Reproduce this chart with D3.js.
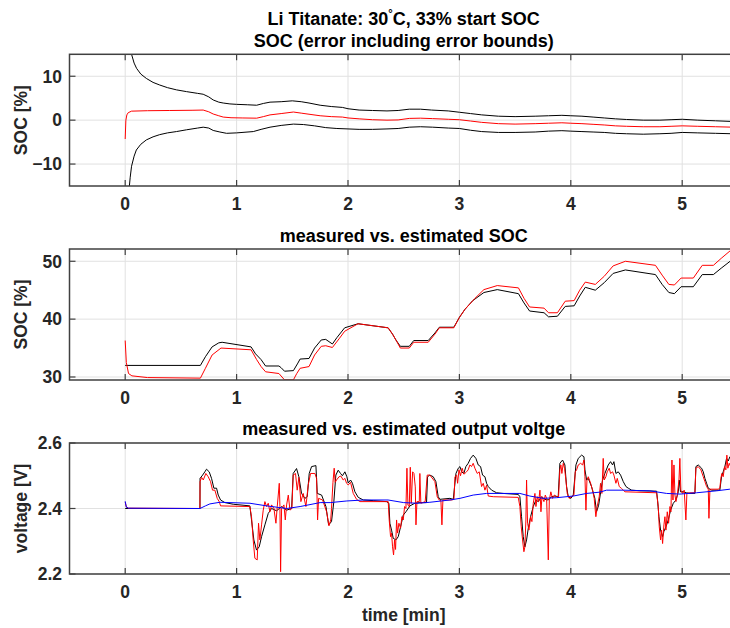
<!DOCTYPE html>
<html>
<head>
<meta charset="utf-8">
<script src="https://cdn.jsdelivr.net/npm/d3@7"></script>
<style>
  body { margin: 0; background: #fff; }
  svg { display: block; font-family: "Liberation Sans", Arial, sans-serif; font-weight: bold; }
</style>
</head>
<body>
<svg id="fig" width="730" height="628"></svg>
<script>
// --- Data (time in minutes) ---

const timeTicks = [0, 1, 2, 3, 4, 5];

// Panel 1: SOC error [%] and its bounds
const errTicks = [-10, 0, 10];
const errEst = [[0,-4.3],[0.006,0],[0.015,1.2],[0.027,1.7],[0.057,2.05],[0.2,2.15],[0.4,2.2],[0.6,2.25],[0.70,2.3],[0.75,1.9],[0.79,1.4],[0.84,1.0],[0.88,0.7],[0.95,0.55],[1.05,0.5],[1.18,0.45],[1.24,0.8],[1.30,1.2],[1.4,1.5],[1.51,1.85],[1.58,1.6],[1.65,1.35],[1.75,1.0],[1.85,0.8],[1.95,0.7],[2.0,0.5],[2.1,0.3],[2.22,0.1],[2.35,0.0],[2.45,0.05],[2.55,0.4],[2.65,0.45],[2.76,0.35],[2.9,0.2],[3.0,0.1],[3.1,-0.2],[3.2,-0.5],[3.35,-0.8],[3.5,-0.9],[3.68,-0.8],[3.8,-0.7],[3.92,-0.6],[4.0,-0.7],[4.1,-0.8],[4.2,-0.95],[4.3,-1.1],[4.4,-1.3],[4.5,-1.4],[4.65,-1.5],[4.8,-1.5],[4.9,-1.4],[5.0,-1.3],[5.14,-1.4],[5.3,-1.5],[5.45,-1.6]];
const errUpper = [[0.02,40],[0.04,19],[0.057,15],[0.08,13],[0.102,11.8],[0.14,10.5],[0.19,9.5],[0.25,8.6],[0.31,8.0],[0.38,7.4],[0.46,6.9],[0.55,6.5],[0.65,6.1],[0.70,5.9],[0.75,5.3],[0.79,4.6],[0.84,4.1],[0.88,3.9],[0.94,3.7],[1.0,3.6],[1.1,3.5],[1.18,3.4],[1.24,3.8],[1.3,4.1],[1.4,4.2],[1.5,4.4],[1.58,4.2],[1.65,3.9],[1.75,3.4],[1.85,3.1],[1.95,2.9],[2.0,2.6],[2.1,2.3],[2.22,2.2],[2.35,2.1],[2.45,2.2],[2.55,2.5],[2.65,2.5],[2.75,2.3],[2.9,2.1],[3.0,1.8],[3.1,1.5],[3.2,1.2],[3.35,0.9],[3.5,0.8],[3.68,0.9],[3.8,1.0],[3.92,1.1],[4.0,1.0],[4.1,0.9],[4.2,0.7],[4.3,0.5],[4.4,0.3],[4.5,0.15],[4.65,0.0],[4.8,0.0],[4.9,0.1],[5.0,0.2],[5.14,0.0],[5.3,-0.15],[5.45,-0.3]];
const errLower = [[0.02,-40],[0.03,-17],[0.045,-13],[0.057,-10.5],[0.08,-8.2],[0.10,-6.8],[0.14,-5.5],[0.19,-4.5],[0.25,-3.8],[0.31,-3.3],[0.38,-2.9],[0.46,-2.6],[0.55,-2.2],[0.65,-1.8],[0.70,-1.6],[0.75,-1.8],[0.79,-2.35],[0.85,-2.7],[0.91,-3.0],[1.0,-2.9],[1.15,-2.6],[1.22,-2.1],[1.30,-1.6],[1.4,-1.2],[1.51,-0.9],[1.6,-1.0],[1.7,-1.3],[1.8,-1.7],[1.9,-1.9],[2.0,-2.0],[2.1,-2.1],[2.22,-2.1],[2.35,-2.0],[2.45,-1.9],[2.55,-1.6],[2.65,-1.5],[2.76,-1.6],[2.9,-1.8],[3.0,-1.9],[3.1,-2.3],[3.2,-2.6],[3.35,-2.8],[3.5,-2.8],[3.68,-2.7],[3.8,-2.5],[3.92,-2.4],[4.0,-2.5],[4.1,-2.6],[4.2,-2.7],[4.3,-2.8],[4.4,-3.0],[4.5,-3.1],[4.65,-3.2],[4.8,-3.1],[4.9,-3.0],[5.0,-2.8],[5.14,-2.9],[5.3,-3.0],[5.45,-3.1]];

// Panel 2: measured vs. estimated SOC [%]
const socTicks = [30, 40, 50];
const socMeas = [[0,32.0],[0.675,32.0],[0.72,33.5],[0.78,35.2],[0.84,35.9],[0.87,36.0],[1.13,35.2],[1.17,34.0],[1.22,33.0],[1.26,31.9],[1.38,31.9],[1.40,31.6],[1.43,31.0],[1.51,31.1],[1.55,32.4],[1.57,33.1],[1.65,33.2],[1.70,35.0],[1.76,36.4],[1.80,36.5],[1.86,35.7],[1.90,36.8],[1.97,38.5],[2.09,39.2],[2.36,38.5],[2.40,37.4],[2.43,36.4],[2.47,35.3],[2.55,35.3],[2.59,36.3],[2.72,36.3],[2.78,37.6],[2.82,38.6],[2.95,38.6],[3.0,40.3],[3.05,41.7],[3.12,43.2],[3.22,44.6],[3.34,45.1],[3.53,44.4],[3.58,42.8],[3.63,41.4],[3.76,41.1],[3.80,40.4],[3.88,40.5],[3.95,42.2],[4.03,42.3],[4.08,44.0],[4.13,45.5],[4.22,45.0],[4.30,46.3],[4.38,47.9],[4.49,48.5],[4.76,47.7],[4.82,46.0],[4.88,44.6],[4.93,44.4],[4.99,45.6],[5.10,45.6],[5.18,47.7],[5.28,47.7],[5.35,48.8],[5.43,50.0],[5.5,50.5]];
const socEst = [[0,36.3],[0.01,32.5],[0.03,30.6],[0.06,30.2],[0.2,29.9],[0.675,29.8],[0.72,31.5],[0.78,33.8],[0.86,35.0],[1.13,34.7],[1.18,33.0],[1.22,31.8],[1.26,30.9],[1.38,30.6],[1.43,29.5],[1.51,29.5],[1.54,30.6],[1.57,31.5],[1.65,31.8],[1.70,33.8],[1.76,35.3],[1.80,35.4],[1.86,35.1],[1.92,36.6],[1.97,37.9],[2.09,39.2],[2.36,38.5],[2.40,37.4],[2.43,36.4],[2.47,35.0],[2.55,35.0],[2.59,36.0],[2.72,36.0],[2.78,37.4],[2.82,38.5],[2.95,38.5],[3.0,40.3],[3.05,41.7],[3.14,43.6],[3.22,45.1],[3.34,45.8],[3.53,45.4],[3.58,43.6],[3.63,42.1],[3.76,41.9],[3.80,41.1],[3.88,41.1],[3.95,43.1],[4.03,43.2],[4.08,45.0],[4.13,46.4],[4.22,46.0],[4.30,47.4],[4.38,49.2],[4.49,50.0],[4.76,49.3],[4.82,47.6],[4.88,46.0],[4.93,45.9],[4.99,47.1],[5.10,47.1],[5.18,49.3],[5.28,49.3],[5.35,50.5],[5.43,51.8],[5.5,52.4]];

// Panel 3: measured vs. estimated output voltage [V], plus the slow (OCV) term
const voltTicks = [2.2, 2.4, 2.6];
const voltMeas = [[0,2.400],[0.671,2.400],[0.672,2.492],[0.695,2.502],[0.715,2.512],[0.730,2.520],[0.754,2.512],[0.775,2.492],[0.796,2.462],[0.820,2.462],[0.835,2.441],[0.856,2.426],[0.895,2.418],[0.970,2.413],[1.119,2.408],[1.134,2.365],[1.155,2.304],[1.179,2.273],[1.203,2.283],[1.224,2.314],[1.254,2.350],[1.284,2.385],[1.314,2.400],[1.359,2.393],[1.404,2.406],[1.449,2.395],[1.494,2.400],[1.508,2.507],[1.538,2.522],[1.559,2.497],[1.583,2.446],[1.613,2.431],[1.634,2.436],[1.652,2.507],[1.673,2.528],[1.712,2.531],[1.724,2.446],[1.763,2.441],[1.802,2.406],[1.826,2.350],[1.852,2.360],[1.873,2.421],[1.891,2.502],[1.912,2.517],[1.933,2.507],[1.950,2.500],[1.972,2.512],[1.990,2.497],[2.002,2.478],[2.023,2.487],[2.040,2.477],[2.062,2.451],[2.092,2.434],[2.137,2.426],[2.226,2.424],[2.346,2.421],[2.367,2.416],[2.376,2.355],[2.391,2.334],[2.406,2.309],[2.430,2.304],[2.451,2.314],[2.472,2.344],[2.496,2.380],[2.520,2.390],[2.556,2.408],[2.600,2.416],[2.645,2.418],[2.705,2.418],[2.714,2.497],[2.735,2.502],[2.765,2.497],[2.789,2.482],[2.810,2.436],[2.825,2.428],[2.915,2.431],[2.945,2.428],[2.969,2.507],[2.990,2.523],[3.005,2.528],[3.020,2.512],[3.040,2.507],[3.058,2.528],[3.079,2.538],[3.100,2.553],[3.124,2.563],[3.148,2.553],[3.169,2.533],[3.190,2.528],[3.208,2.502],[3.229,2.497],[3.244,2.477],[3.259,2.467],[3.289,2.456],[3.334,2.448],[3.393,2.446],[3.528,2.443],[3.543,2.436],[3.558,2.375],[3.573,2.314],[3.588,2.283],[3.603,2.304],[3.618,2.339],[3.639,2.375],[3.663,2.406],[3.687,2.426],[3.708,2.421],[3.738,2.436],[3.768,2.428],[3.798,2.426],[3.827,2.436],[3.857,2.438],[3.887,2.436],[3.902,2.538],[3.926,2.548],[3.947,2.533],[3.962,2.467],[3.977,2.436],[4.001,2.431],[4.022,2.441],[4.046,2.533],[4.067,2.553],[4.097,2.563],[4.118,2.558],[4.127,2.518],[4.142,2.487],[4.157,2.492],[4.186,2.467],[4.216,2.431],[4.231,2.390],[4.250,2.410],[4.268,2.450],[4.285,2.487],[4.306,2.507],[4.336,2.533],[4.357,2.543],[4.375,2.533],[4.387,2.543],[4.405,2.507],[4.426,2.512],[4.447,2.502],[4.471,2.482],[4.495,2.467],[4.516,2.462],[4.546,2.456],[4.620,2.454],[4.770,2.453],[4.779,2.425],[4.791,2.375],[4.806,2.334],[4.824,2.314],[4.836,2.330],[4.854,2.344],[4.875,2.365],[4.896,2.395],[4.920,2.416],[4.944,2.426],[4.965,2.451],[4.974,2.487],[4.985,2.451],[5.009,2.451],[5.039,2.448],[5.069,2.446],[5.114,2.446],[5.123,2.528],[5.144,2.533],[5.174,2.523],[5.189,2.512],[5.204,2.492],[5.219,2.477],[5.234,2.462],[5.264,2.456],[5.338,2.456],[5.353,2.497],[5.368,2.512],[5.383,2.528],[5.398,2.553],[5.413,2.545],[5.428,2.558],[5.5,2.550]];
const voltEst = [[0,2.420],[0.01,2.405],[0.03,2.401],[0.671,2.400],[0.672,2.482],[0.686,2.495],[0.701,2.487],[0.724,2.507],[0.745,2.497],[0.766,2.482],[0.784,2.456],[0.805,2.456],[0.826,2.431],[0.844,2.421],[0.856,2.408],[1.119,2.406],[1.134,2.375],[1.149,2.304],[1.164,2.248],[1.185,2.243],[1.197,2.355],[1.209,2.304],[1.224,2.350],[1.239,2.395],[1.254,2.421],[1.269,2.406],[1.284,2.416],[1.299,2.390],[1.314,2.411],[1.335,2.400],[1.353,2.355],[1.365,2.406],[1.383,2.477],[1.389,2.406],[1.395,2.207],[1.404,2.400],[1.425,2.411],[1.437,2.365],[1.449,2.411],[1.464,2.441],[1.479,2.395],[1.496,2.400],[1.508,2.502],[1.529,2.507],[1.544,2.456],[1.559,2.495],[1.577,2.421],[1.598,2.446],[1.622,2.406],[1.643,2.472],[1.664,2.507],[1.703,2.507],[1.718,2.492],[1.727,2.365],[1.736,2.431],[1.772,2.426],[1.808,2.390],[1.829,2.347],[1.845,2.365],[1.852,2.400],[1.865,2.480],[1.876,2.523],[1.885,2.480],[1.897,2.487],[1.920,2.497],[1.936,2.499],[1.957,2.487],[1.972,2.492],[1.987,2.477],[2.002,2.472],[2.023,2.480],[2.047,2.446],[2.077,2.428],[2.107,2.421],[2.361,2.421],[2.370,2.365],[2.382,2.314],[2.391,2.325],[2.400,2.283],[2.409,2.258],[2.418,2.304],[2.427,2.275],[2.436,2.365],[2.445,2.325],[2.457,2.355],[2.472,2.340],[2.484,2.375],[2.496,2.365],[2.508,2.406],[2.520,2.400],[2.529,2.523],[2.538,2.410],[2.550,2.406],[2.559,2.526],[2.568,2.416],[2.580,2.512],[2.592,2.507],[2.604,2.466],[2.610,2.350],[2.619,2.421],[2.640,2.421],[2.645,2.507],[2.654,2.416],[2.693,2.421],[2.711,2.502],[2.735,2.502],[2.780,2.482],[2.801,2.436],[2.819,2.426],[2.834,2.424],[2.843,2.350],[2.852,2.426],[2.930,2.426],[2.951,2.428],[2.960,2.497],[2.975,2.502],[2.984,2.477],[2.996,2.518],[3.010,2.500],[3.025,2.523],[3.040,2.505],[3.049,2.507],[3.064,2.512],[3.079,2.518],[3.094,2.533],[3.109,2.528],[3.124,2.538],[3.139,2.523],[3.160,2.507],[3.178,2.512],[3.190,2.487],[3.199,2.467],[3.214,2.477],[3.229,2.456],[3.244,2.471],[3.259,2.438],[3.304,2.436],[3.528,2.434],[3.543,2.406],[3.555,2.344],[3.567,2.304],[3.579,2.268],[3.588,2.283],[3.597,2.365],[3.603,2.487],[3.612,2.355],[3.624,2.334],[3.639,2.375],[3.651,2.360],[3.663,2.416],[3.678,2.446],[3.687,2.406],[3.699,2.436],[3.711,2.421],[3.723,2.456],[3.732,2.390],[3.741,2.436],[3.759,2.421],[3.771,2.441],[3.783,2.431],[3.798,2.243],[3.807,2.426],[3.821,2.451],[3.836,2.431],[3.854,2.441],[3.872,2.436],[3.890,2.436],[3.902,2.518],[3.911,2.533],[3.920,2.507],[3.932,2.538],[3.944,2.523],[3.956,2.487],[3.968,2.446],[3.986,2.431],[4.007,2.436],[4.028,2.441],[4.040,2.512],[4.052,2.518],[4.067,2.533],[4.088,2.538],[4.106,2.533],[4.118,2.548],[4.127,2.497],[4.136,2.395],[4.145,2.487],[4.157,2.497],[4.178,2.477],[4.195,2.456],[4.210,2.431],[4.225,2.375],[4.237,2.406],[4.255,2.436],[4.267,2.477],[4.279,2.446],[4.291,2.553],[4.300,2.487],[4.315,2.497],[4.327,2.512],[4.345,2.523],[4.357,2.507],[4.375,2.512],[4.387,2.502],[4.405,2.477],[4.417,2.492],[4.435,2.467],[4.456,2.461],[4.471,2.456],[4.486,2.451],[4.770,2.448],[4.785,2.406],[4.794,2.344],[4.806,2.304],[4.815,2.334],[4.824,2.293],[4.836,2.350],[4.845,2.375],[4.854,2.334],[4.866,2.390],[4.878,2.355],[4.890,2.406],[4.899,2.390],[4.908,2.548],[4.917,2.426],[4.926,2.533],[4.935,2.441],[4.944,2.421],[4.956,2.441],[4.971,2.487],[4.979,2.553],[4.988,2.456],[5.003,2.446],[5.018,2.456],[5.033,2.365],[5.042,2.446],[5.069,2.448],[5.114,2.448],[5.123,2.523],[5.144,2.528],[5.168,2.518],[5.189,2.497],[5.204,2.482],[5.219,2.467],[5.234,2.459],[5.240,2.370],[5.249,2.459],[5.323,2.459],[5.338,2.462],[5.347,2.492],[5.356,2.507],[5.368,2.497],[5.380,2.528],[5.392,2.518],[5.401,2.563],[5.410,2.523],[5.422,2.538],[5.435,2.528],[5.5,2.540]];
const voltOcv = [[0,2.422],[0.01,2.404],[0.03,2.401],[0.671,2.400],[0.72,2.408],[0.76,2.414],[0.85,2.419],[1.12,2.416],[1.27,2.408],[1.45,2.400],[1.57,2.406],[1.75,2.418],[1.84,2.418],[1.99,2.423],[2.14,2.426],[2.36,2.426],[2.50,2.418],[2.62,2.416],[2.735,2.419],[2.915,2.426],[3.005,2.431],[3.124,2.441],[3.244,2.446],[3.543,2.446],[3.633,2.438],[3.753,2.431],[3.872,2.433],[4.022,2.438],[4.142,2.446],[4.261,2.450],[4.321,2.456],[4.471,2.456],[4.710,2.454],[4.860,2.446],[4.979,2.444],[5.129,2.448],[5.309,2.454],[5.428,2.459],[5.5,2.462]];

// --- Layout ---

const svg = d3.select("#fig");
const AXIS = "#404040";
const GRID = "#e1e1e1";
const TEXT = "#262626";

// the figure is cut off on the right, so the axes run past the svg edge
const x = d3.scaleLinear().domain([-0.5, 5.5]).range([69.5, 737.9]);

const panels = [
  {
    id: "err", top: 54.3, bottom: 186, domain: [-15, 15], ticks: errTicks,
    titles: [{ text: "Li Titanate: 30", deg: true, rest: "C, 33% start SOC", y: 25 }, { text: "SOC (error including error bounds)", y: 47 }],
    ylabel: "SOC [%]", fmt: d3.format("d"),
    series: [{ data: errUpper, color: "#000" }, { data: errLower, color: "#000" }, { data: errEst, color: "#f00" }],
  },
  {
    id: "soc", top: 249, bottom: 380, domain: [29.48, 52.12], ticks: socTicks,
    titles: [{ text: "measured vs. estimated SOC", y: 242 }],
    ylabel: "SOC [%]", fmt: d3.format("d"),
    series: [{ data: socMeas, color: "#000" }, { data: socEst, color: "#f00" }],
  },
  {
    id: "volt", top: 443, bottom: 574, domain: [2.2, 2.6], ticks: voltTicks,
    titles: [{ text: "measured vs. estimated output voltge", y: 435 }],
    ylabel: "voltage [V]", fmt: d3.format(".1f"),
    series: [{ data: voltMeas, color: "#000" }, { data: voltEst, color: "#f00" }, { data: voltOcv, color: "#00f" }],
  },
];

const [x0, x1] = x.range();
const cx = (x0 + x1) / 2;

function drawPanel(p) {
  const y = d3.scaleLinear().domain(p.domain).range([p.bottom, p.top]);
  const g = svg.append("g").attr("class", "panel-" + p.id);

  // grid
  g.append("g").selectAll("line").data(timeTicks).join("line")
    .attr("x1", (d) => x(d)).attr("x2", (d) => x(d))
    .attr("y1", p.top).attr("y2", p.bottom)
    .attr("stroke", GRID).attr("stroke-width", 1);
  g.append("g").selectAll("line").data(p.ticks).join("line")
    .attr("x1", x0).attr("x2", x1)
    .attr("y1", (d) => y(d)).attr("y2", (d) => y(d))
    .attr("stroke", GRID).attr("stroke-width", 1);

  // data lines, clipped to the axes box
  const clipId = "clip-" + p.id;
  svg.append("clipPath").attr("id", clipId)
    .append("rect").attr("x", x0).attr("y", p.top).attr("width", x1 - x0).attr("height", p.bottom - p.top);
  const line = d3.line().x((d) => x(d[0])).y((d) => y(d[1]));
  const lines = g.append("g").attr("clip-path", `url(#${clipId})`);
  p.series.forEach((s) => {
    lines.append("path").attr("d", line(s.data))
      .attr("fill", "none").attr("stroke", s.color)
      .attr("stroke-width", 1).attr("stroke-linejoin", "round");
  });

  // box
  g.append("rect")
    .attr("x", x0).attr("y", p.top).attr("width", x1 - x0).attr("height", p.bottom - p.top)
    .attr("fill", "none").attr("stroke", AXIS).attr("stroke-width", 1.5);

  // inward ticks on all four sides
  const tk = 6;
  const ticks = g.append("g").attr("stroke", AXIS).attr("stroke-width", 1.2);
  timeTicks.forEach((t) => {
    ticks.append("line").attr("x1", x(t)).attr("x2", x(t)).attr("y1", p.bottom).attr("y2", p.bottom - tk);
    ticks.append("line").attr("x1", x(t)).attr("x2", x(t)).attr("y1", p.top).attr("y2", p.top + tk);
  });
  p.ticks.forEach((v) => {
    ticks.append("line").attr("x1", x0).attr("x2", x0 + tk).attr("y1", y(v)).attr("y2", y(v));
    ticks.append("line").attr("x1", x1).attr("x2", x1 - tk).attr("y1", y(v)).attr("y2", y(v));
  });

  // tick labels
  g.append("g").selectAll("text").data(timeTicks).join("text")
    .attr("x", (d) => x(d)).attr("y", p.bottom + 24)
    .attr("text-anchor", "middle").attr("font-size", 17.5).attr("fill", TEXT)
    .text((d) => d);
  g.append("g").selectAll("text").data(p.ticks).join("text")
    .attr("x", 62).attr("y", (d) => y(d)).attr("dy", "0.36em")
    .attr("text-anchor", "end").attr("font-size", 17.5).attr("fill", TEXT)
    .text(p.fmt);

  // y label
  g.append("text")
    .attr("transform", `translate(26.5,${(p.top + p.bottom) / 2}) rotate(-90)`)
    .attr("text-anchor", "middle").attr("font-size", 17.5).attr("fill", TEXT)
    .text(p.ylabel);

  // titles
  p.titles.forEach((t) => {
    const el = g.append("text").attr("x", cx).attr("y", t.y)
      .attr("text-anchor", "middle").attr("font-size", 18).attr("fill", "#000");
    el.append("tspan").text(t.text);
    if (t.deg) {
      el.append("tspan").attr("font-size", 11).attr("dy", -8).text("\u00b0");
      el.append("tspan").attr("dy", 8).text(t.rest);
    }
  });
}

panels.forEach(drawPanel);

svg.append("text")
  .attr("x", cx).attr("y", 621)
  .attr("text-anchor", "middle").attr("font-size", 17.5).attr("fill", TEXT)
  .text("time [min]");
</script>
</body>
</html>
